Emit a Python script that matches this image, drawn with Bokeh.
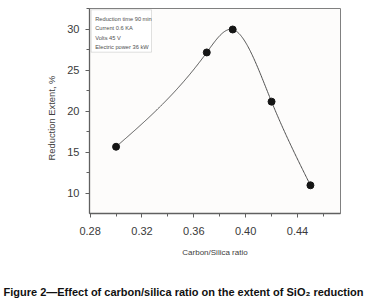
import numpy as np
from bokeh.plotting import figure
from bokeh.models import Label, BoxAnnotation, Range1d, FixedTicker, PrintfTickFormatter, Title
from bokeh.embed import file_html
from bokeh.resources import INLINE

# ---- data ----
ratio = [0.30, 0.37, 0.39, 0.42, 0.45]
extent = [15.7, 27.2, 30.0, 21.2, 11.0]
x_ticks = [0.28, 0.32, 0.36, 0.40, 0.44]
x_minor = [0.30, 0.34, 0.38, 0.42, 0.46]
y_ticks = [10, 15, 20, 25, 30]
y_minor = [7.5, 12.5, 17.5, 22.5, 27.5, 32.5]
conditions = ["Reduction time 90 min", "Current 0.6 KA", "Volts 45 V", "Electric power 36 kW"]
x_title = "Carbon/Silica ratio"
y_title = "Reduction Extent, %"
caption = "Figure 2\u2014Effect of carbon/silica ratio on the extent of SiO\u2082 reduction"


def natural_spline(xs, ys, n=300):
    x = np.asarray(xs, float)
    y = np.asarray(ys, float)
    k = len(x)
    h = np.diff(x)
    A = np.zeros((k, k))
    b = np.zeros(k)
    A[0, 0] = 1.0
    A[-1, -1] = 1.0
    for i in range(1, k - 1):
        A[i, i - 1] = h[i - 1]
        A[i, i] = 2 * (h[i - 1] + h[i])
        A[i, i + 1] = h[i]
        b[i] = 6 * ((y[i + 1] - y[i]) / h[i] - (y[i] - y[i - 1]) / h[i - 1])
    M = np.linalg.solve(A, b)
    xx = np.linspace(x[0], x[-1], n)
    idx = np.clip(np.searchsorted(x, xx) - 1, 0, k - 2)
    x0, x1 = x[idx], x[idx + 1]
    hh = x1 - x0
    t0 = x1 - xx
    t1 = xx - x0
    yy = (M[idx] * t0 ** 3 / (6 * hh) + M[idx + 1] * t1 ** 3 / (6 * hh)
          + (y[idx] / hh - M[idx] * hh / 6) * t0
          + (y[idx + 1] / hh - M[idx + 1] * hh / 6) * t1)
    return xx, yy


FONT = "Liberation Sans"

p = figure(width=380, height=304, output_backend="svg", toolbar_location=None,
           x_range=Range1d(0.2795, 0.4732), y_range=Range1d(7.56, 32.56),
           min_border_left=89, min_border_right=40, min_border_top=8, min_border_bottom=91)

p.background_fill_color = "#fdfcfb"
p.border_fill_color = "#ffffff"
p.outline_line_color = "#808080"
p.outline_line_width = 1
p.xgrid.visible = False
p.ygrid.visible = False

for ax in (p.xaxis[0], p.yaxis[0]):
    ax.axis_line_color = "#606060"
    ax.axis_line_width = 1.3
    ax.major_tick_line_color = "#606060"
    ax.minor_tick_line_color = "#606060"
    ax.major_tick_in = 0
    ax.minor_tick_in = 0
    ax.major_tick_out = 4
    ax.minor_tick_out = 3
    ax.major_label_text_font = FONT
    ax.major_label_text_font_size = "11px"
    ax.major_label_text_color = "#3a3a3a"

p.xaxis.ticker = FixedTicker(ticks=x_ticks, minor_ticks=x_minor)
p.xaxis.formatter = PrintfTickFormatter(format="%.2f")
p.xaxis.major_label_standoff = 9
p.xaxis.axis_label = x_title
p.xaxis.axis_label_text_font = FONT
p.xaxis.axis_label_text_font_style = "normal"
p.xaxis.axis_label_text_color = "#404040"
p.xaxis.axis_label_text_font_size = "8px"
p.xaxis.axis_label_standoff = 10

p.yaxis.ticker = FixedTicker(ticks=y_ticks, minor_ticks=y_minor)
p.yaxis.major_label_standoff = 6

# y title as a side title so it can be nudged like the reference
ytitle = Title(text=y_title, align="left", offset=53, standoff=16,
               text_font=FONT, text_font_size="9.4px", text_font_style="normal",
               text_color="#404040")
p.add_layout(ytitle, "left")

xs, ys = natural_spline(ratio, extent)
p.line(xs, ys, line_color="#505050", line_width=1)
p.scatter(ratio, extent, size=7, fill_color="#151515", line_color="#151515")

# condition box
p.add_layout(BoxAnnotation(left=1.7, right=62, top=203.7, bottom=161.3,
                           left_units="screen", right_units="screen",
                           top_units="screen", bottom_units="screen",
                           fill_color="#ffffff", fill_alpha=1.0,
                           line_color="#9a9a9a", line_width=1))
for i, txt in enumerate(conditions):
    p.add_layout(Label(x=5.7, y=194.7 - 9.4 * i, x_units="screen", y_units="screen",
                       text=txt, text_font=FONT, text_font_size="5.7px",
                       text_color="#505050", text_baseline="middle", text_align="left"))

# blank spacer panel, then the caption below the chart
p.add_layout(Title(text=" ", text_font=FONT, text_font_size="8px", standoff=13), "below")
cap = Title(text=caption, align="left", offset=-86, standoff=0,
            text_font=FONT, text_font_size="11px", text_font_style="bold",
            text_color="#111111")
p.add_layout(cap, "below")

open("out.html", "w").write(file_html(p, INLINE))
